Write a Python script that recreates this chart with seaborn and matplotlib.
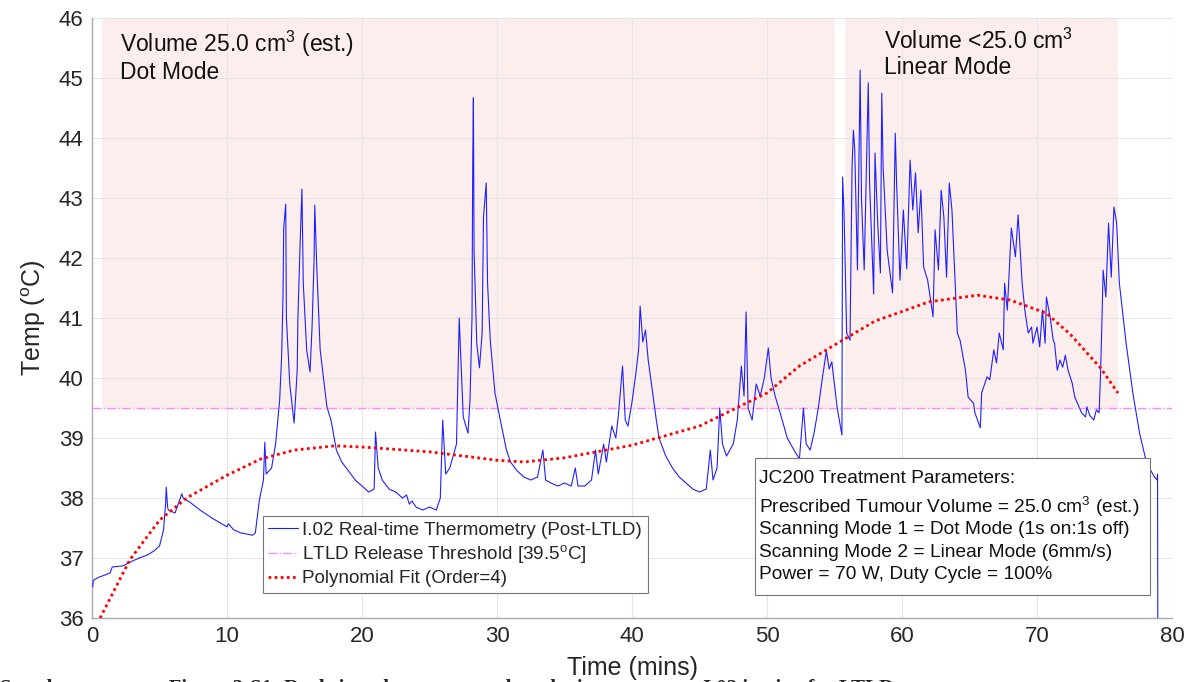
import numpy as np
import pandas as pd
import matplotlib
matplotlib.use("Agg")
import matplotlib.pyplot as plt
from matplotlib.patches import Rectangle
import seaborn as sns

# ---------------- data, (time [min], temp [degC]) ----------------
warmup = [(0.05, 36.52), (0.1, 36.63), (0.5, 36.68), (1.0, 36.72), (1.33, 36.75), (1.5, 36.85),
          (2.3, 36.87), (2.8, 36.93), (3.5, 37.0), (4.1, 37.05), (4.6, 37.12), (5.0, 37.2),
          (5.3, 37.47), (5.45, 37.9), (5.5, 38.18), (5.6, 37.85), (5.65, 37.8), (6.15, 37.75),
          (6.5, 37.97), (6.65, 38.07), (6.75, 38.0), (7.25, 37.93), (8.0, 37.8), (9.0, 37.65),
          (10.0, 37.52), (10.1, 37.57), (10.5, 37.47), (11.0, 37.42), (11.9, 37.38),
          (12.1, 37.42), (12.4, 37.97), (12.7, 38.3), (12.8, 38.93), (12.9, 38.4)]
dot_mode = [(13.3, 38.5), (13.6, 38.9), (13.9, 39.63), (14.05, 40.38), (14.15, 41.4),
            (14.2, 42.5), (14.35, 42.9), (14.4, 41.0), (14.65, 39.9), (14.97, 39.25),
            (15.2, 40.13), (15.25, 40.97), (15.4, 42.13), (15.55, 43.15), (15.65, 41.58),
            (15.9, 40.47), (16.15, 40.1), (16.3, 40.85), (16.45, 41.97), (16.5, 42.88),
            (16.65, 41.85), (16.9, 40.47), (17.4, 39.52), (17.7, 39.3), (17.8, 39.18),
            (18.1, 38.8), (18.5, 38.6), (19.0, 38.45), (19.5, 38.3), (20.0, 38.2), (20.5, 38.1),
            (20.9, 38.15), (21.0, 39.1), (21.2, 38.5), (21.5, 38.3), (22.0, 38.15), (22.5, 38.1),
            (23.0, 38.0), (23.3, 38.05), (23.5, 37.9), (23.7, 37.95), (24.0, 37.85),
            (24.5, 37.8), (25.0, 37.85), (25.5, 37.8), (25.8, 38.0), (25.98, 39.3),
            (26.2, 38.4), (26.5, 38.5), (27.0, 38.9), (27.2, 41.0), (27.5, 39.35),
            (27.85, 39.08), (28.0, 39.63), (28.15, 41.02), (28.2, 43.52), (28.25, 44.67),
            (28.3, 42.13), (28.5, 40.58), (28.7, 40.17), (28.9, 40.75), (29.0, 42.68),
            (29.2, 43.25), (29.3, 41.58), (29.5, 40.63), (29.85, 39.75), (30.2, 39.35),
            (30.7, 38.8), (31.0, 38.6), (31.5, 38.45), (32.0, 38.35), (32.5, 38.3),
            (33.0, 38.35), (33.4, 38.8), (33.6, 38.3), (34.0, 38.25), (34.5, 38.2),
            (35.0, 38.25), (35.5, 38.2), (35.8, 38.5), (36.0, 38.2), (36.5, 38.2), (37.0, 38.3),
            (37.3, 38.8), (37.5, 38.4), (37.9, 38.9), (38.1, 38.6), (38.5, 39.2), (38.8, 39.0),
            (39.0, 39.4), (39.3, 40.2), (39.5, 39.3), (39.7, 39.2), (40.0, 39.6), (40.3, 40.1),
            (40.5, 40.5), (40.6, 41.2), (40.8, 40.6), (41.0, 40.8), (41.2, 40.3), (41.5, 39.8),
            (41.8, 39.3), (42.0, 39.0), (42.5, 38.7), (43.0, 38.5), (43.5, 38.35),
            (44.0, 38.25), (44.5, 38.15), (45.0, 38.1), (45.5, 38.15), (45.8, 38.8),
            (46.0, 38.3), (46.3, 38.5), (46.5, 39.5), (46.7, 38.9), (47.0, 38.7), (47.5, 38.9),
            (47.8, 39.3), (48.1, 40.2), (48.3, 39.7), (48.45, 41.1), (48.6, 39.5),
            (48.9, 39.3), (49.2, 39.9), (49.5, 39.7), (49.8, 40.0), (50.1, 40.5), (50.3, 40.0),
            (50.6, 39.7), (51.0, 39.4), (51.5, 39.0), (52.0, 38.8), (52.4, 38.65),
            (52.7, 39.5), (52.9, 38.9), (53.2, 38.8), (53.5, 39.1), (53.8, 39.5), (54.1, 40.0),
            (54.4, 40.45), (54.6, 40.15), (54.8, 40.27), (55.2, 39.5), (55.55, 39.05)]
linear_mode = [(55.6, 43.35), (55.7, 42.8), (55.9, 40.75), (56.15, 40.63), (56.3, 43.52),
               (56.4, 44.13), (56.5, 43.8), (56.7, 41.8), (56.9, 45.13), (57.0, 42.97),
               (57.2, 41.8), (57.5, 44.92), (57.6, 43.25), (57.9, 41.4), (58.0, 43.75),
               (58.2, 42.58), (58.4, 41.75), (58.5, 44.75), (58.6, 43.52), (58.9, 42.13),
               (59.3, 41.42), (59.5, 44.08), (59.6, 43.25), (59.85, 41.63), (60.1, 42.8),
               (60.35, 41.82), (60.6, 43.63), (60.8, 42.8), (61.0, 43.42), (61.2, 42.42),
               (61.4, 43.13), (61.6, 41.85), (61.9, 41.63), (62.3, 41.02), (62.45, 42.47),
               (62.7, 41.8), (62.9, 43.13), (63.1, 42.68), (63.3, 41.68), (63.5, 43.25),
               (63.7, 42.8), (64.1, 40.75), (64.3, 40.63), (64.7, 40.13), (64.9, 39.68),
               (65.3, 39.58), (65.4, 39.42), (65.8, 39.17), (65.9, 39.75), (66.3, 40.02),
               (66.5, 39.97), (66.8, 40.47), (67.0, 40.25), (67.2, 40.75), (67.5, 40.47),
               (67.6, 41.58), (67.8, 41.13), (68.1, 42.5), (68.4, 42.02), (68.6, 42.72),
               (68.9, 41.58), (69.1, 41.13), (69.35, 40.75), (69.6, 40.85), (69.7, 40.58),
               (70.0, 40.85), (70.2, 40.52), (70.4, 41.13), (70.6, 40.58), (70.7, 41.35),
               (71.0, 40.97), (71.2, 40.63), (71.3, 40.58), (71.5, 40.13), (71.7, 40.3),
               (71.9, 40.18), (72.1, 40.38), (72.3, 40.13), (72.6, 39.92), (72.8, 39.68),
               (73.0, 39.58), (73.3, 39.42), (73.6, 39.35), (73.7, 39.52), (73.9, 39.38),
               (74.2, 39.3), (74.4, 39.47), (74.6, 39.42), (74.7, 40.02), (74.8, 40.85),
               (74.9, 41.8), (75.1, 41.35), (75.3, 42.58), (75.5, 41.68), (75.7, 42.85),
               (75.9, 42.58)]
cooldown = [(76.1, 41.58), (76.6, 40.58), (77.1, 39.75), (77.6, 39.08), (78.1, 38.6),
            (78.5, 38.43), (78.7, 38.35), (78.9, 38.3), (78.93, 38.4), (78.94, 37.0),
            (78.95, 35.5)]

fit_time = [0.6, 2.8, 5.0, 7.0, 10.0, 12.5, 15.0, 18.0, 20.0, 25.0, 30.0, 32.0, 35.0, 40.0,
            45.0, 50.0, 52.4, 55.6, 58.0, 59.9, 62.0, 65.6, 68.0, 70.7, 72.5, 74.7, 76.0]
fit_temp = [36.0, 36.97, 37.63, 38.0, 38.38, 38.65, 38.8, 38.87, 38.85, 38.77, 38.63, 38.6,
            38.67, 38.88, 39.2, 39.75, 40.2, 40.63, 40.95, 41.1, 41.27, 41.38, 41.3, 41.08,
            40.72, 40.17, 39.75]

threshold = 39.5
regions = [(0.75, 55.0), (55.75, 76.0)]
region_labels = ["Volume 25.0 cm$^3$ (est.)\nDot Mode", "Volume <25.0 cm$^3$\nLinear Mode"]
legend_labels = ["I.02 Real-time Thermometry (Post-LTLD)",
                 "LTLD Release Threshold [39.5$^{\\rm o}$C]",
                 "Polynomial Fit (Order=4)"]
param_title = "JC200 Treatment Parameters:"
param_lines = ["Prescribed Tumour Volume = 25.0 cm$^3$ (est.)",
               "Scanning Mode 1 = Dot Mode (1s on:1s off)",
               "Scanning Mode 2 = Linear Mode (6mm/s)",
               "Power = 70 W, Duty Cycle = 100%"]
caption = ("Supplementary      Figure 3-S1: Real-time thermometry data during treatment I.02 "
           "in vivo for LTLD")

points = warmup + dot_mode + linear_mode + cooldown
time_min = [p[0] for p in points]
temp_c = [p[1] for p in points]

# ---------------- style ----------------
sns.set_theme(style="whitegrid")
plt.rcParams['font.family'] = ['Liberation Sans', 'DejaVu Sans']
plt.rcParams['mathtext.fontset'] = 'custom'
plt.rcParams['mathtext.rm'] = 'Liberation Sans'

fig = plt.figure(figsize=(11.98, 6.82), dpi=100)
ax = fig.add_axes([0.0768, 0.0938, 0.9015, 0.8798])

for (x0, x1) in regions:
    ax.fill_between([x0, x1], threshold, 46, color='#fdeeee', zorder=0, linewidth=0)

df = pd.DataFrame({"Time": time_min, "Temp": temp_c})
sns.lineplot(data=df, x="Time", y="Temp", ax=ax, estimator=None, sort=False,
             color='#2020ff', linewidth=0.8, label=legend_labels[0], zorder=3)
ax.axhline(threshold, color='#ff88ff', linestyle='-.', linewidth=1.0,
           label=legend_labels[1], zorder=2)
dfit = pd.DataFrame({"Time": fit_time, "Temp": fit_temp})
sns.lineplot(data=dfit, x="Time", y="Temp", ax=ax, estimator=None, sort=False,
             color='#ff0000', linewidth=2.0, linestyle=(0, (1, 1.2)),
             label=legend_labels[2], zorder=4)

ax.set_xlim(0, 80)
ax.set_ylim(36, 46)
ax.set_xticks(range(0, 81, 10))
ax.set_yticks(range(36, 47))
ax.grid(True, color='#e6e6e6', linewidth=0.8)
for s in ['top', 'right']:
    ax.spines[s].set_visible(False)
for s in ['left', 'bottom']:
    ax.spines[s].set_color('#aaaaaa')
    ax.spines[s].set_linewidth(1.0)
ax.tick_params(axis='both', direction='in', length=7, width=0.8, color='#888888',
               labelsize=16, labelcolor='#262626', pad=6)
ax.set_xlabel("Time (mins)", fontsize=18, color='#262626', labelpad=6)
ax.set_ylabel("Temp ($^{\\rm o}$C)", fontsize=18, color='#262626', labelpad=8)

ax.text(2.1, 45.82, region_labels[0], fontsize=16.5, va='top', ha='left',
        linespacing=1.1, color='#111111', zorder=5)
ax.text(58.7, 45.82, region_labels[1], fontsize=16.5, va='top', ha='left',
        linespacing=1.1, color='#111111', zorder=5)

leg = ax.legend(loc='lower left', bbox_to_anchor=(0.158, 0.042), borderaxespad=0,
                fontsize=13.6, frameon=True, fancybox=False, framealpha=1,
                edgecolor='#777777', handlelength=1.55, borderpad=0.3,
                labelspacing=0.22, handletextpad=0.25)
leg.get_frame().set_linewidth(0.8)

# parameters box
ax.add_patch(Rectangle((49.1, 36.383), 29.27, 2.284, facecolor='white',
                       edgecolor='#777777', linewidth=0.8, zorder=6))
ax.text(49.4, 38.33, param_title, fontsize=13.8, va='center', ha='left',
        color='#111111', zorder=7)
for i, line in enumerate(param_lines):
    ax.text(49.4, 37.85 - i * 0.377, line, fontsize=13.8, va='center', ha='left',
            color='#111111', zorder=7)

fig.text(0.0, 0.005, caption, fontsize=15, fontweight='bold',
         family=['Liberation Serif', 'DejaVu Serif'], va='top', ha='left')

fig.savefig("out.png", dpi=100)
